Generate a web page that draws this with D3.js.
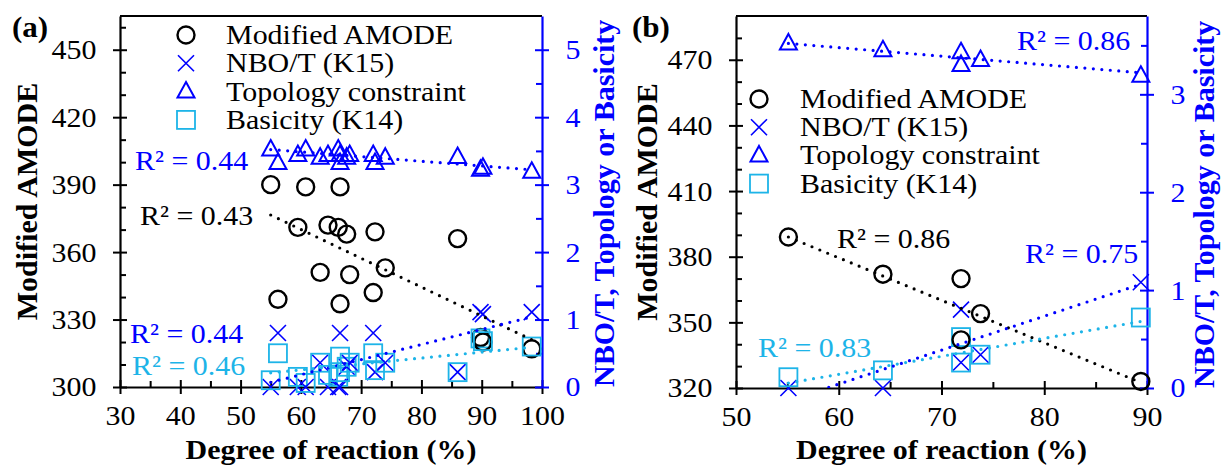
<!DOCTYPE html>
<html>
<head>
<meta charset="utf-8">
<script src="https://cdn.jsdelivr.net/npm/d3@7"></script>
<style>
  body { margin: 0; background: #fff; }
  svg text { font-family: "Liberation Serif", "Times New Roman", serif; }
</style>
</head>
<body>
<svg id="chart" width="1224" height="465"></svg>
<script>
'use strict';

// ---- panel (a) data ----
var aDegree = [55.0, 56.2, 59.5, 60.8, 63.2, 64.5, 66.2, 66.5, 66.5, 67.6, 68.1, 72.0, 72.3, 74.0, 86.0, 89.8, 90.2, 98.3];
var aAmode  = [390, 339, 371, 389, 351, 372, 371, 389, 337, 368, 350, 342, 369, 353, 366, 322, 320, 317];
var aNbo    = [0.0, 0.80, 0.0, 0.0, 0.36, 0.0, 0.0, 0.80, 0.0, 0.30, 0.36, 0.80, 0.22, 0.36, 0.22, 1.11, 1.08, 1.11];
var aTopo   = [3.52, 3.32, 3.44, 3.52, 3.40, 3.44, 3.52, 3.44, 3.32, 3.40, 3.44, 3.44, 3.32, 3.40, 3.41, 3.22, 3.25, 3.19];
var aBasic  = [0.10, 0.50, 0.15, 0.06, 0.36, 0.18, 0.15, 0.45, 0.22, 0.30, 0.36, 0.50, 0.25, 0.36, 0.22, 0.72, 0.68, 0.60];
// fitted lines (end points)
var aFitX     = [55, 98.3];
var aFitAmode = [376.5, 321];
var aFitNbo   = [0.07, 1.04];
var aFitTopo  = [3.52, 3.22];
var aFitBasic = [0.21, 0.59];
var aR2 = ['R² = 0.43', 'R² = 0.44', 'R² = 0.44', 'R² = 0.46']; // amode, nbo, topo, basic

var aXTicks = [30, 40, 50, 60, 70, 80, 90, 100];
var aXMinor = [35, 45, 55, 65, 75, 85, 95];
var aLTicks = [300, 330, 360, 390, 420, 450];
var aLMinor = [310, 320, 340, 350, 370, 380, 400, 410, 430, 440, 460];
var aRTicks = [0, 1, 2, 3, 4, 5];
var aRMinor = [0.5, 1.5, 2.5, 3.5, 4.5];

// ---- panel (b) data ----
var bDegree = [55.1, 64.3, 71.9, 71.9, 73.8, 89.4];
var bAmode  = [389, 372, 370, 342, 354, 323];
var bNbo    = [0, 0, 0.80, 0.26, 0.34, 1.08];
var bTopo   = [3.52, 3.45, 3.43, 3.30, 3.35, 3.19];
var bBasic  = [0.11, 0.18, 0.52, 0.26, 0.34, 0.72];
var bFitX     = [55.1, 89.4];
var bFitAmode = [389, 322.5];
var bFitNbo   = [-0.13, 1.06];
var bFitTopo  = [3.52, 3.22];
var bFitBasic = [0.05, 0.68];
var bR2 = ['R² = 0.86', 'R² = 0.75', 'R² = 0.86', 'R² = 0.83'];

var bXTicks = [50, 60, 70, 80, 90];
var bXMinor = [55, 65, 75, 85];
var bLTicks = [320, 350, 380, 410, 440, 470];
var bLMinor = [330, 340, 360, 370, 390, 400, 420, 430, 450, 460, 480];
var bRTicks = [0, 1, 2, 3];
var bRMinor = [0.5, 1.5, 2.5, 3.5];

var legendNames = ['Modified AMODE', 'NBO/T (K15)', 'Topology constraint', 'Basicity (K14)'];
var legendShapes = ['circle', 'cross', 'triangle', 'square'];

var BLACK = '#000', BLUE = '#0000ff', CYAN = '#1db4e8';
var SX = 1.07; // the picture is a little wider than tall
var shapeColor = { circle: BLACK, cross: BLUE, triangle: BLUE, square: CYAN };
var shapeWidth = { circle: 2.4, cross: 1.6, triangle: 2, square: 1.8 };

var svg = d3.select('#chart');

function mark(g, shape, px, py) {
  var m = g.append('g').attr('transform', 'translate(' + px + ',' + py + ')')
    .attr('fill', 'none').attr('stroke', shapeColor[shape]).attr('stroke-width', shapeWidth[shape]);
  if (shape === 'circle') m.append('circle').attr('r', 8.5);
  if (shape === 'cross') m.append('path').attr('d', 'M-8,-8L8,8M-8,8L8,-8');
  if (shape === 'triangle') m.append('path').attr('d', 'M0,-9.5L8.5,6L-8.5,6Z');
  if (shape === 'square') m.append('rect').attr('x', -9).attr('y', -9).attr('width', 18).attr('height', 18);
}

function text(g, str, px, py, o) {
  return g.append('text').text(str)
    .attr('transform', 'translate(' + px + ',' + py + ') scale(' + (o.rot ? 1 : SX) + ',1)' + (o.rot ? ' rotate(-90)' : ''))
    .attr('font-size', o.size || 28).attr('font-weight', o.bold ? 'bold' : null)
    .attr('text-anchor', o.anchor || 'start').attr('fill', o.color || BLACK);
}

function drawAxis(g, orient, scale, pos, major, minor, color) {
  var make = { left: d3.axisLeft, right: d3.axisRight, bottom: d3.axisBottom }[orient];
  var tr = orient === 'bottom' ? 'translate(0,' + pos + ')' : 'translate(' + pos + ',0)';
  // minor ticks point inward
  var mg = g.append('g').attr('transform', tr).attr('color', color)
    .call(make(scale).tickValues(minor).tickSizeInner(-6).tickSizeOuter(0).tickFormat(''));
  mg.select('.domain').remove();
  mg.selectAll('line').attr('stroke-width', 2);
  var ag = g.append('g').attr('transform', tr).attr('color', color)
    .call(make(scale).tickValues(major).tickFormat(d3.format('d')).tickSizeInner(7).tickSizeOuter(0)
      .tickPadding(orient === 'bottom' ? 11 : 15));
  ag.attr('font-size', null).attr('font-family', null);
  ag.select('.domain').attr('stroke-width', 2.2);
  ag.selectAll('line').attr('stroke-width', 2);
  if (orient === 'left') ag.selectAll('.tick line').attr('x1', 7);
  if (orient === 'right') ag.selectAll('.tick line').attr('x1', -7);
  if (orient === 'bottom') ag.selectAll('.tick line').attr('y1', -7);
  ag.selectAll('.tick text').attr('font-size', 28).attr('fill', color)
    .attr('transform', 'scale(' + SX + ',1)');
}

function drawPanel(p) {
  var box = p.box;
  var x = d3.scaleLinear().domain(p.xDomain).range([box[0], box[2]]);
  var yL = d3.scaleLinear().domain(p.lDomain).range([box[3], box[1]]);
  var yR = d3.scaleLinear().domain(p.rDomain).range([box[3], box[1]]);
  var g = svg.append('g');

  g.append('clipPath').attr('id', 'clip-' + p.name).append('rect')
    .attr('x', box[0]).attr('y', box[1]).attr('width', box[2] - box[0]).attr('height', box[3] - box[1]);

  g.append('line').attr('x1', box[0]).attr('x2', box[2]).attr('y1', box[1]).attr('y2', box[1])
    .attr('stroke', BLACK).attr('stroke-width', 2);

  drawAxis(g, 'bottom', x, box[3], p.xTicks, p.xMinor, BLACK);
  drawAxis(g, 'left', yL, box[0], p.lTicks, p.lMinor, BLACK);
  drawAxis(g, 'right', yR, box[2], p.rTicks, p.rMinor, BLUE);

  // points
  p.degree.forEach(function (d, i) {
    mark(g, 'circle', x(d), yL(p.amode[i]));
    mark(g, 'cross', x(d), yR(p.nbo[i]));
    mark(g, 'triangle', x(d), yR(p.topo[i]));
    mark(g, 'square', x(d), yR(p.basic[i]));
  });

  // dotted fits
  var fits = [[p.fitAmode, yL, BLACK], [p.fitNbo, yR, BLUE], [p.fitTopo, yR, BLUE], [p.fitBasic, yR, CYAN]];
  fits.forEach(function (f) {
    var yS = f[1];
    g.append('path').datum(d3.zip(p.fitX, f[0]))
      .attr('clip-path', 'url(#clip-' + p.name + ')')
      .attr('d', d3.line().x(function (d) { return x(d[0]); }).y(function (d) { return yS(d[1]); }))
      .attr('fill', 'none').attr('stroke', f[2]).attr('stroke-width', 3.2)
      .attr('stroke-linecap', 'round').attr('stroke-dasharray', '0 8.5');
  });

  // R² labels
  var r2Colors = [BLACK, BLUE, BLUE, CYAN];
  p.r2.forEach(function (s, i) {
    text(g, s, p.r2Pos[i][0], p.r2Pos[i][1], { color: r2Colors[i] });
  });

  // legend
  legendNames.forEach(function (name, i) {
    var ly = p.legend[1] + i * p.legend[3];
    mark(g, legendShapes[i], p.legend[0], ly);
    text(g, name, p.legend[2], ly + 9, {});
  });

  // titles
  text(g, p.label, p.labelPos[0], 37, { bold: true, size: 29 });
  text(g, 'Degree of reaction (%)', (box[0] + box[2]) / 2, 459, { bold: true, anchor: 'middle' });
  text(g, 'Modified AMODE', p.lTitleX, (box[1] + box[3]) / 2, { bold: true, size: 30, anchor: 'middle', rot: true });
  text(g, 'NBO/T, Topology or Basicity', p.rTitleX, box[3], { bold: true, size: 30, rot: true, color: BLUE });
}

drawPanel({
  name: 'a', label: '(a)', labelPos: [12],
  box: [120, 16, 542, 387],
  xDomain: [30, 100], lDomain: [300, 465], rDomain: [0, 5.5],
  xTicks: aXTicks, xMinor: aXMinor, lTicks: aLTicks, lMinor: aLMinor, rTicks: aRTicks, rMinor: aRMinor,
  degree: aDegree, amode: aAmode, nbo: aNbo, topo: aTopo, basic: aBasic,
  fitX: aFitX, fitAmode: aFitAmode, fitNbo: aFitNbo, fitTopo: aFitTopo, fitBasic: aFitBasic,
  r2: aR2, r2Pos: [[140, 225], [130, 343], [135, 170], [132, 375]],
  legend: [186, 35, 226, 28.3],
  lTitleX: 37, rTitleX: 614
});

drawPanel({
  name: 'b', label: '(b)', labelPos: [632],
  box: [736, 16, 1147, 388],
  xDomain: [50, 90], lDomain: [320, 490], rDomain: [0, 3.8],
  xTicks: bXTicks, xMinor: bXMinor, lTicks: bLTicks, lMinor: bLMinor, rTicks: bRTicks, rMinor: bRMinor,
  degree: bDegree, amode: bAmode, nbo: bNbo, topo: bTopo, basic: bBasic,
  fitX: bFitX, fitAmode: bFitAmode, fitNbo: bFitNbo, fitTopo: bFitTopo, fitBasic: bFitBasic,
  r2: bR2, r2Pos: [[837, 248], [1025, 263], [1017, 50], [758, 357]],
  legend: [759, 99, 800, 28.2],
  lTitleX: 657, rTitleX: 1214
});
</script>
</body>
</html>
